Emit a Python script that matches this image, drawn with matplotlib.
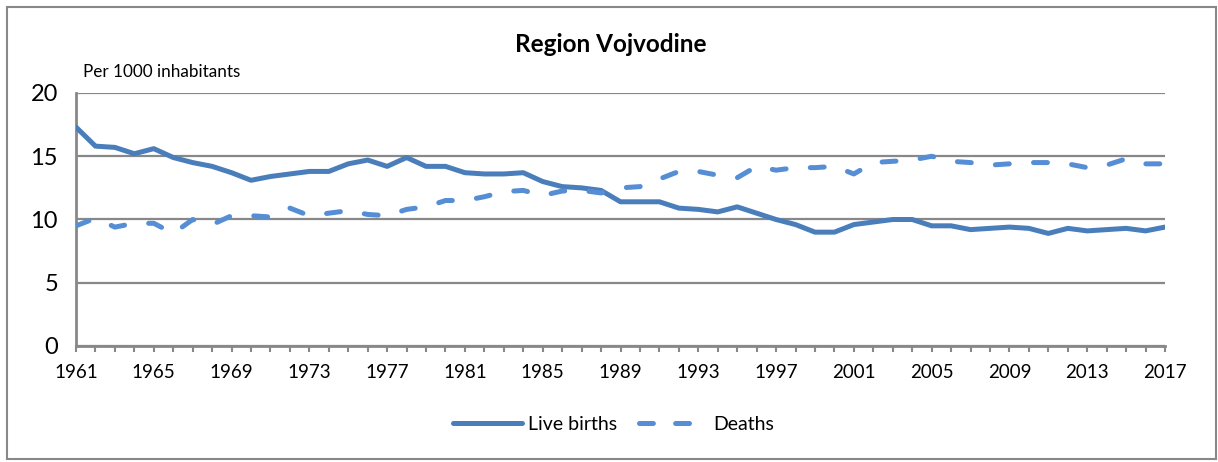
import matplotlib
matplotlib.use("Agg")
import matplotlib.pyplot as plt
from matplotlib.patches import Rectangle
from matplotlib.lines import Line2D

plt.rcParams['font.family'] = ['Lato', 'DejaVu Sans']
plt.rcParams['lines.scale_dashes'] = False

years = list(range(1961, 2018))
live_births = [17.3, 15.8, 15.7, 15.2, 15.6, 14.9, 14.5, 14.2, 13.7, 13.1,
               13.4, 13.6, 13.8, 13.8, 14.4, 14.7, 14.2, 14.9, 14.2, 14.2,
               13.7, 13.6, 13.6, 13.7, 13.0, 12.6, 12.5, 12.3, 11.4, 11.4,
               11.4, 10.9, 10.8, 10.6, 11.0, 10.5, 10.0, 9.6, 9.0, 9.0,
               9.6, 9.8, 10.0, 10.0, 9.5, 9.5, 9.2, 9.3, 9.4, 9.3,
               8.9, 9.3, 9.1, 9.2, 9.3, 9.1, 9.4]
deaths = [9.5, 10.1, 9.4, 9.7, 9.7, 8.9, 10.0, 9.6, 10.3, 10.3,
          10.2, 10.9, 10.3, 10.5, 10.7, 10.4, 10.3, 10.8, 11.0, 11.5,
          11.5, 11.8, 12.2, 12.3, 11.9, 12.25, 12.3, 12.1, 12.5, 12.6,
          13.2, 13.8, 13.8, 13.5, 13.3, 14.2, 13.9, 14.1, 14.1, 14.2,
          13.6, 14.5, 14.6, 14.7, 15.0, 14.6, 14.5, 14.3, 14.4, 14.5,
          14.5, 14.4, 14.1, 14.3, 14.8, 14.4, 14.4]
yticks = [0, 5, 10, 15, 20]
xlabels = years[::4]

W, H = 1218, 462
fig = plt.figure(figsize=(W / 100, H / 100), dpi=100)
ax = fig.add_axes([76 / W, 1 - 346 / H, (1165 - 76) / W, (346 - 93) / H])

gray = '#888888'
c_births = '#4A7EBB'
c_deaths = '#558ED5'

ax.plot(years, live_births, color=c_births, lw=3.6, solid_capstyle='round',
        solid_joinstyle='round', label='Live births', zorder=3)
ax.plot(years, deaths, color=c_deaths, lw=3.6, dashes=(10, 17.5),
        dash_capstyle='round', label='Deaths', zorder=3)

ax.set_xlim(1961, 2017)
ax.set_ylim(0, 20)
ax.set_yticks(yticks)
ax.set_xticks(years, minor=False)
ax.set_xticklabels([str(y) if y in xlabels else '' for y in years], fontsize=13.5)
ax.tick_params(axis='x', length=4, width=1.5, color=gray, direction='out', pad=9)
ax.tick_params(axis='y', length=0, labelsize=17, pad=13)
ax.grid(axis='y', color=gray, lw=1.6, zorder=1)
for s in ['top', 'right']:
    ax.spines[s].set_visible(False)
for s in ['left', 'bottom']:
    ax.spines[s].set_color(gray)
    ax.spines[s].set_linewidth(2)

fig.text(611 / W, 1 - 45 / H, 'Region Vojvodine', ha='center', va='center',
         fontsize=17.5, fontweight='bold')
fig.text(83 / W, 1 - 72 / H, 'Per 1000 inhabitants', ha='left', va='center',
         fontsize=12.3)

handles = [Line2D([], [], color=c_births, lw=3.6, solid_capstyle='round'),
           Line2D([], [], color=c_deaths, lw=3.6, dashes=(10, 16),
                  dash_capstyle='round')]
fig.legend(handles, ['Live births', 'Deaths'], loc='center',
           bbox_to_anchor=(614 / W, 1 - 424 / H), ncol=2, frameon=False,
           fontsize=14, handlelength=3.5, handletextpad=0.35, columnspacing=1.1)

fig.patches.append(Rectangle((7 / W, 3 / H), (1216 - 7) / W, (455 - 3) / H,
                             transform=fig.transFigure, fill=False,
                             edgecolor=gray, lw=1.5))

fig.savefig('out.png', dpi=100)
